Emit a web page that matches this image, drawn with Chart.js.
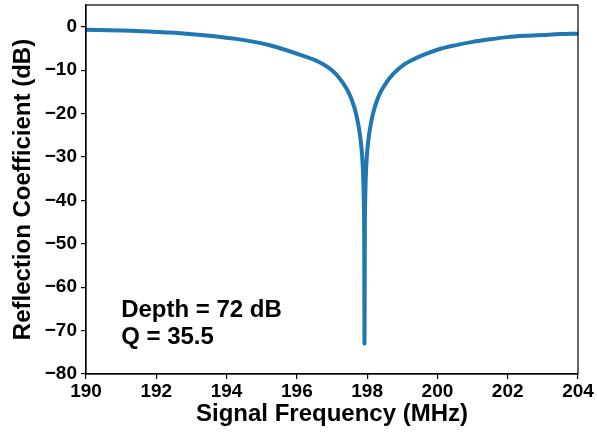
<!DOCTYPE html>
<html>
<head>
<meta charset="utf-8">
<script src="https://cdn.jsdelivr.net/npm/chart.js@4/dist/chart.umd.min.js"></script>
<style>
html,body{margin:0;padding:0;background:#fff;}
#wrap{width:597px;height:434px;}
</style>
</head>
<body>
<div id="wrap"><canvas id="c" width="597" height="434"></canvas></div>
<script>
const freqs = [190, 191, 192, 192.85, 194.27, 195.2, 196.18, 196.6, 196.9, 197.1, 197.3, 197.45, 197.57, 197.67, 197.75, 197.81, 197.86, 197.89, 197.905, 197.915, 197.925, 197.935, 197.945, 197.96, 197.99, 198.04, 198.1, 198.18, 198.28, 198.4, 198.55, 198.75, 199.0, 199.3, 199.6, 200, 200.5, 201, 201.5, 202, 202.5, 203, 203.5, 204];
const reflection = [-0.7, -0.9, -1.2, -1.6, -2.8, -4.2, -6.7, -8.0, -9.4, -10.8, -12.8, -14.8, -17.0, -19.6, -22.6, -25.8, -30.0, -35.0, -40.0, -46.0, -73.0, -46.0, -40.0, -35.0, -30.0, -25.8, -22.6, -19.6, -17.0, -14.8, -12.8, -10.8, -9.0, -7.6, -6.5, -5.3, -4.3, -3.5, -2.9, -2.4, -2.1, -1.9, -1.7, -1.6];
const xTicks = [190, 192, 194, 196, 198, 200, 202, 204];
const yTicks = [0, -10, -20, -30, -40, -50, -60, -70, -80];
const annotationLines = ["Depth = 72 dB", "Q = 35.5"];

const FONT = '"Liberation Sans", Arial, sans-serif';
const fmt = v => (v < 0 ? "\u2212" + Math.abs(v) : String(v));

const framePlugin = {
  id: 'frame',
  afterDraw(chart) {
    const {ctx, chartArea: a} = chart;
    ctx.save();
    ctx.strokeStyle = '#000';
    ctx.lineWidth = 1.2;
    ctx.strokeRect(a.left, a.top, a.right - a.left, a.bottom - a.top);
    const xs = chart.scales.x;
    ctx.fillStyle = '#000';
    ctx.font = 'bold 24px ' + FONT;
    ctx.textBaseline = 'alphabetic';
    ctx.textAlign = 'left';
    const x0 = xs.getPixelForValue(191.0);
    ctx.fillText(annotationLines[0], x0, 317);
    ctx.fillText(annotationLines[1], x0, 344);
    ctx.restore();
  }
};

new Chart(document.getElementById('c'), {
  type: 'line',
  data: {
    datasets: [{
      data: freqs.map((f, i) => ({x: f, y: reflection[i]})),
      borderColor: '#1f77b4',
      borderWidth: 4,
      pointRadius: 0,
      cubicInterpolationMode: 'monotone',
      fill: false,
      borderCapStyle: 'round',
      borderJoinStyle: 'round'
    }]
  },
  options: {
    responsive: false,
    animation: false,
    devicePixelRatio: 1,
    layout: {padding: {top: 5, right: 19, left: 0, bottom: 0}},
    plugins: {legend: {display: false}, tooltip: {enabled: false}},
    scales: {
      x: {
        type: 'linear',
        min: 190, max: 204,
        afterBuildTicks: s => { s.ticks = xTicks.map(v => ({value: v})); },
        afterFit: s => { s.height = 60; s.paddingLeft = 0; s.paddingRight = 0; },
        ticks: {
          color: '#000',
          font: {family: FONT, size: 19, weight: 'bold'},
          padding: 1,
          maxRotation: 0,
          callback: v => fmt(v)
        },
        grid: {drawOnChartArea: false, drawTicks: true, tickLength: 5, color: '#000', lineWidth: 1.2},
        border: {display: true, color: '#000', width: 1.2},
        title: {
          display: true,
          text: 'Signal Frequency (MHz)',
          color: '#000',
          font: {family: FONT, size: 24, weight: 'bold'},
          padding: {top: 0, bottom: 5}
        }
      },
      y: {
        type: 'linear',
        min: -80, max: 5,
        afterBuildTicks: s => { s.ticks = yTicks.map(v => ({value: v})); },
        afterFit: s => { s.width = 86; s.paddingTop = 0; s.paddingBottom = 0; },
        ticks: {
          color: '#000',
          font: {family: FONT, size: 19, weight: 'bold'},
          padding: 4,
          callback: v => fmt(v)
        },
        grid: {drawOnChartArea: false, drawTicks: true, tickLength: 5, color: '#000', lineWidth: 1.2},
        border: {display: true, color: '#000', width: 1.2},
        title: {
          display: true,
          text: 'Reflection Coefficient (dB)',
          color: '#000',
          font: {family: FONT, size: 24, weight: 'bold'},
          padding: {top: 9, bottom: 0}
        }
      }
    }
  },
  plugins: [framePlugin]
});
</script>
</body>
</html>
